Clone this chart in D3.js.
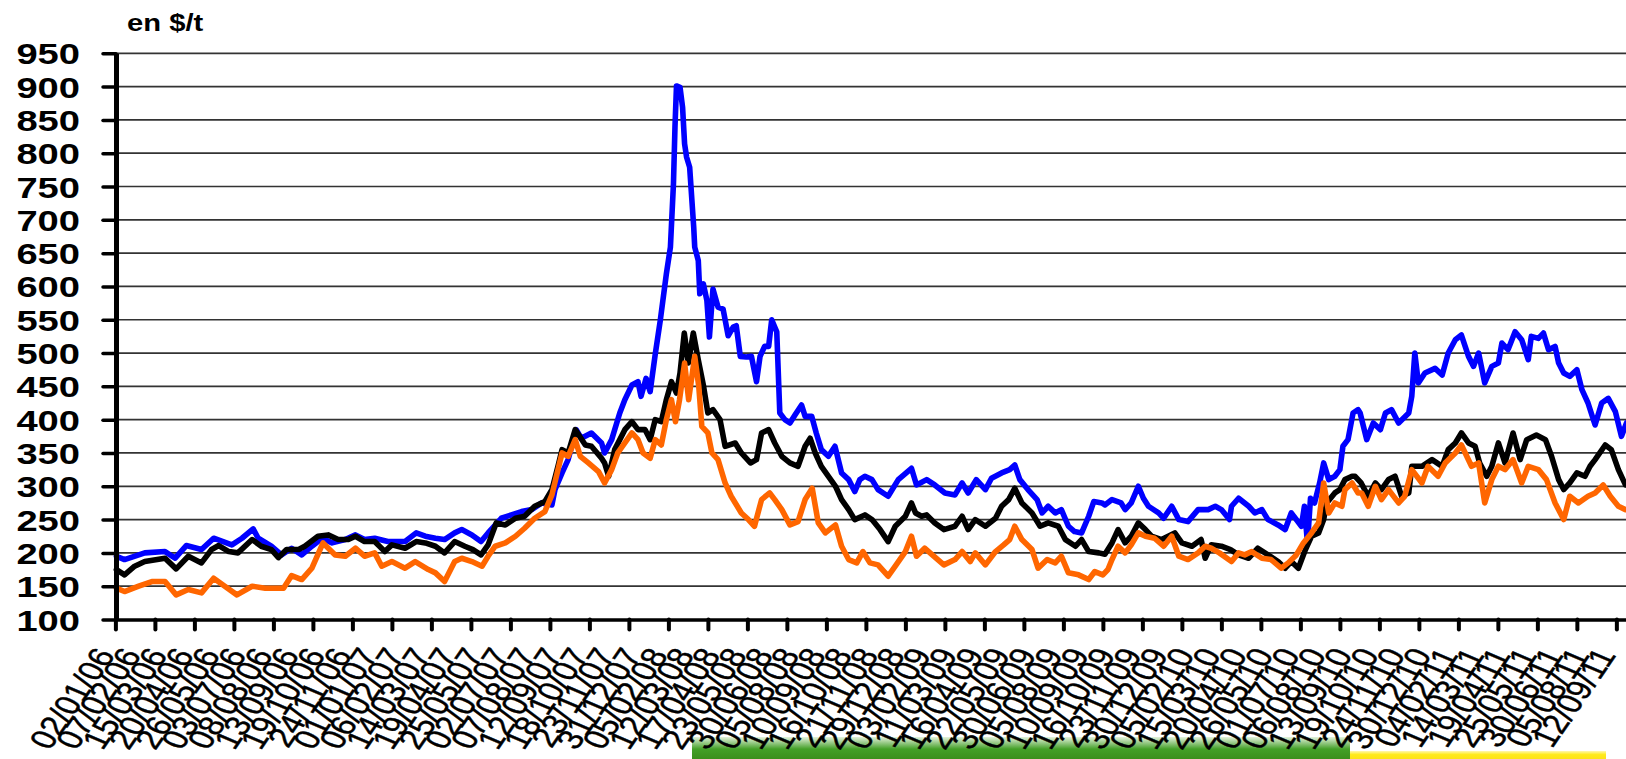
<!DOCTYPE html>
<html>
<head>
<meta charset="utf-8">
<script src="https://cdn.jsdelivr.net/npm/d3@7"></script>
<style>
  html, body { margin: 0; padding: 0; background: #fff; }
  svg { display: block; }
</style>
</head>
<body>
<div id="chart"></div>
<script>
(function (d3) {
    'use strict';

    // Category labels (one every 26 trading days).
    var dateLabels = [
        '02/01/06', '07/02/06', '15/03/06', '20/04/06', '26/05/06', '03/07/06', '08/08/06',
        '13/09/06', '19/10/06', '24/11/06', '01/01/07', '06/02/07', '14/03/07', '19/04/07',
        '25/05/07', '02/07/07', '07/08/07', '12/09/07', '18/10/07', '23/11/07', '31/12/07',
        '05/02/08', '12/03/08', '17/04/08', '23/05/08', '30/06/08', '05/08/08', '10/09/08',
        '16/10/08', '21/11/08', '29/12/08', '03/02/09', '11/03/09', '16/04/09', '22/05/09',
        '30/06/09', '05/08/09', '10/09/09', '16/10/09', '23/11/09', '30/12/09', '05/02/10',
        '15/03/10', '20/04/10', '26/05/10', '01/07/10', '06/08/10', '13/09/10', '19/10/10',
        '24/11/10', '30/12/10', '04/02/11', '14/03/11', '19/04/11', '25/05/11', '30/06/11',
        '05/08/11', '12/09/11'
    ];
    var yTicks = [100, 150, 200, 250, 300, 350, 400, 450, 500, 550, 600, 650, 700, 750, 800, 850, 900, 950];

    // [trading day, $/t]
    var blue = [
        [1,195],[9,190],[29,200],[49,202],[59,192],[70,211],[85,205],[97,222],[115,212],[125,222],
        [136,236],[141,222],[154,210],[164,197],[174,207],[184,197],[194,210],[204,222],[214,215],[227,220],
        [237,227],[246,220],[256,222],[269,217],[286,217],[297,230],[306,225],[316,222],[325,220],[335,230],
        [342,235],[352,227],[361,217],[368,230],[381,252],[391,257],[401,262],[411,265],[421,275],[431,272],
        [434,295],[441,320],[447,340],[455,385],[460,372],[470,380],[480,365],[483,350],[490,370],[498,410],
        [503,430],[510,452],[516,457],[519,435],[524,462],[528,442],[533,498],[538,549],[544,619],[548,659],
        [551,754],[552.5,839],[554,901],[557.5,899],[560,869],[562,814],[564,794],[567,779],[571,689],[572,659],
        [575.5,639],[577,589],[580.5,604],[584,579],[586.5,524],[590,596],[595,569],[600,566],[605,526],[610,539],
        [613,541],[617,495],[623,494],[628,495],[633,457],[636.5,495],[641,510],[645,510],[648,550],[653,532],
        [656,410],[661,400],[666,395],[671,407],[677.5,422],[681,405],[687.5,405],[692,380],[697,355],[704,345],
        [710.5,360],[717,320],[724,310],[730,292],[735,310],[740,315],[747,310],[753,295],[763,285],[773,310],
        [786,327],[791,302],[801,310],[809,302],[819,290],[829,287],[836,305],[842,290],[850,310],[859,295],
        [865,312],[875,320],[883,325],[888,332],[893,310],[901,295],[910,280],[915,260],[921,270],[928,260],
        [934,265],[941,240],[947,232],[954,230],[961,255],[966,277],[974,275],[977,272],[984,280],[993,275],
        [997,265],[1003,275],[1010,300],[1015,282],[1020,270],[1030,260],[1035,252],[1043,270],[1050,250],[1059,247],
        [1069,265],[1079,265],[1086,270],[1092,265],[1100,250],[1102,270],[1109,282],[1119,270],[1125,260],[1132,265],
        [1138,250],[1148,242],[1155,235],[1161,260],[1171,240],[1174,270],[1177,215],[1180,282],[1184,275],[1189,305],
        [1193,335],[1198,310],[1204,315],[1209,325],[1212,360],[1217,370],[1222,410],[1227,415],[1229,410],[1235.5,370],
        [1242,395],[1249,385],[1254,410],[1260,415],[1267,395],[1277,410],[1280,435],[1283,500],[1286.5,455],[1293,470],
        [1303,477],[1310,467],[1316,500],[1323,520],[1329,527],[1336,495],[1341,480],[1346,500],[1352,455],[1359,480],
        [1365.5,485],[1369,515],[1375,505],[1382,532],[1388.5,520],[1395,490],[1398,525],[1405,522],[1410,530],[1415,505],
        [1421.5,510],[1425,485],[1430,470],[1436,465],[1443,475],[1448,445],[1454,425],[1461,392],[1467.5,425],[1474,432],
        [1481,412],[1487,375],[1492,395]
    ];

    var black = [
        [1,175],[9,167],[19,180],[29,187],[49,192],[60,176],[72,195],[85,185],[95,205],[102,211],
        [112,202],[121,200],[135,220],[144,210],[154,205],[161,193],[169,205],[181,205],[187,210],[200,225],
        [210,227],[220,220],[230,220],[237,225],[246,217],[256,217],[266,202],[273,212],[286,207],[297,217],
        [306,215],[316,210],[325,200],[335,217],[345,210],[353,205],[361,197],[368,212],[376,245],[385,242],
        [395,252],[404,255],[414,270],[424,277],[431,295],[437,330],[441,355],[447,350],[454,385],[464,362],
        [470,360],[480,342],[483,335],[487,315],[493,355],[503,385],[510,397],[516,385],[523,385],[528,370],
        [533,400],[539,397],[544,430],[549,457],[554,440],[557.5,470],[561.7,530],[565.7,485],[570.6,530],[575.5,490],
        [580.5,452],[585,410],[590,415],[597,400],[602,360],[612,365],[618,350],[627,335],[633,340],[638,380],
        [645,385],[651,365],[658,345],[666,335],[674,330],[681,360],[686,372],[691,350],[697,330],[704,315],
        [711,300],[717,280],[724,265],[730,250],[740,257],[747,250],[755,235],[763,217],[770,240],[780,255],
        [786,275],[790,260],[796,255],[801,257],[809,245],[818,235],[829,240],[836,255],[842,235],[849,250],
        [859,240],[869,252],[875,270],[882,280],[888,297],[895,275],[905,260],[913,240],[921,245],[931,240],
        [938,220],[948,210],[954,220],[961,202],[971,200],[977,198],[984,215],[990,235],[997,215],[1003,225],
        [1010,245],[1017,235],[1023,225],[1033,220],[1046,230],[1053,215],[1063,210],[1072,220],[1076,192],[1082,212],
        [1092,210],[1101,205],[1109,197],[1119,192],[1128,207],[1138,197],[1148,187],[1155,177],[1161,187],[1168,177],
        [1175,205],[1181,225],[1188,230],[1193,250],[1196,275],[1204,290],[1209,295],[1214,310],[1221,315],[1224,315],
        [1230,305],[1237,285],[1244,305],[1250,295],[1257,310],[1263.5,315],[1270,285],[1277,290],[1280,330],[1290,330],
        [1300,340],[1310,330],[1316,355],[1323,365],[1329,380],[1336,365],[1342.5,360],[1347,335],[1354,315],[1359,330],
        [1365.5,365],[1372,335],[1380,380],[1387,340],[1393.5,370],[1403,377],[1412,370],[1418,345],[1425,310],[1430,295],
        [1436,305],[1443,320],[1451,315],[1456,330],[1461,340],[1471,362],[1477,355],[1484,325],[1491,302]
    ];

    var orange = [
        [1,147],[9,142],[23,150],[36,157],[49,157],[60,137],[72,145],[85,140],[97,162],[108,150],
        [120,137],[135,150],[148,147],[166,147],[174,166],[184,160],[194,177],[205,215],[217,197],[227,195],
        [237,207],[246,195],[256,200],[263,180],[273,187],[286,177],[296,187],[309,175],[316,170],[325,157],
        [335,187],[342,192],[352,187],[362,180],[368,195],[375,210],[385,215],[395,225],[404,237],[414,252],
        [424,262],[431,287],[437,325],[441,350],[447,345],[454,370],[459,345],[467,335],[477,322],[483,305],
        [490,325],[496,350],[503,365],[510,380],[516,370],[521,350],[528,342],[533,370],[539,362],[544,400],
        [549,430],[553,397],[557,430],[562,485],[566,430],[572,495],[576,450],[579,390],[585,380],[589,350],
        [595,340],[602,305],[608,285],[618,260],[625,250],[631,240],[638,280],[646,290],[651,280],[658,265],
        [666,242],[674,247],[681,280],[688,297],[694,245],[701,230],[711,242],[717,210],[724,190],[732,185],
        [738,202],[745,185],[753,182],[763,165],[770,180],[780,202],[786,225],[791,195],[799,207],[808,195],
        [818,182],[829,190],[836,202],[844,187],[849,200],[859,182],[869,202],[877,212],[883,220],[888,240],
        [895,220],[905,205],[911,177],[920,190],[928,185],[934,195],[941,170],[951,167],[961,160],[967,172],
        [975,167],[980,175],[984,190],[990,210],[997,200],[1003,212],[1010,230],[1017,225],[1026,222],[1035,210],
        [1043,225],[1050,195],[1059,190],[1069,200],[1076,210],[1082,207],[1090,200],[1102,187],[1109,200],[1115,197],
        [1122,202],[1132,192],[1141,190],[1151,177],[1158,185],[1166,197],[1173,215],[1181,230],[1188,245],[1193,305],
        [1198,260],[1204,275],[1211,270],[1214,295],[1221,305],[1227,290],[1230.5,290],[1237,270],[1244,300],[1250,280],
        [1257,295],[1267,275],[1273,285],[1280,325],[1290,305],[1296,330],[1306,315],[1313,335],[1323,350],[1329,362],
        [1339,330],[1346,335],[1352,275],[1359,310],[1365.5,330],[1372,325],[1380,340],[1388.5,305],[1395,330],[1405,325],
        [1413,310],[1421.5,275],[1430,250],[1436,285],[1444.5,275],[1454,285],[1461,290],[1469,302],[1476,285],[1484,270],
        [1491,265]
    ];

    var LABEL_EVERY = 26;
    var TICK_EVERY = 39;
    var STRETCH = 'scale(1.27,1)';

    var width = 1626;
    var height = 759;

    var x = d3.scaleLinear().domain([0, 1500]).range([115.4, 115.4 + 1500 * 1.0128]);
    var y = d3.scaleLinear().domain([100, 950]).range([619.5, 53.3]);

    var svg = d3.select('#chart').append('svg')
        .attr('width', width)
        .attr('height', height);

    var defs = svg.append('defs');
    var gGreen = defs.append('linearGradient').attr('id', 'band-green')
        .attr('x1', 0).attr('y1', 0).attr('x2', 0).attr('y2', 1);
    gGreen.append('stop').attr('offset', '0%').attr('stop-color', '#e4f2dc');
    gGreen.append('stop').attr('offset', '30%').attr('stop-color', '#8cc47a');
    gGreen.append('stop').attr('offset', '55%').attr('stop-color', '#43a027');
    gGreen.append('stop').attr('offset', '100%').attr('stop-color', '#3b8f1c');
    var gYellow = defs.append('linearGradient').attr('id', 'band-yellow')
        .attr('x1', 0).attr('y1', 0).attr('x2', 0).attr('y2', 1);
    gYellow.append('stop').attr('offset', '0%').attr('stop-color', '#fff8b0');
    gYellow.append('stop').attr('offset', '45%').attr('stop-color', '#ffea1c');
    gYellow.append('stop').attr('offset', '100%').attr('stop-color', '#fde21a');

    // Coloured bands cut off at the bottom of the picture.
    svg.append('rect').attr('x', 692).attr('y', 737).attr('width', 658).attr('height', 22)
        .attr('fill', 'url(#band-green)');
    svg.append('rect').attr('x', 1350).attr('y', 751).attr('width', 256).attr('height', 8)
        .attr('fill', 'url(#band-yellow)');

    // Horizontal grid.
    svg.append('g')
        .selectAll('line')
        .data(yTicks.slice(1))
        .enter().append('line')
        .attr('x1', 116).attr('x2', width)
        .attr('y1', function (d) { return y(d); })
        .attr('y2', function (d) { return y(d); })
        .attr('stroke', '#333')
        .attr('stroke-width', 1.7);

    // Series.
    var line = d3.line()
        .x(function (d) { return x(d[0]); })
        .y(function (d) { return y(d[1]); });

    [[blue, '#0000ff'], [black, '#000000'], [orange, '#ff6600']].forEach(function (s) {
        svg.append('path')
            .datum(s[0])
            .attr('d', line)
            .attr('fill', 'none')
            .attr('stroke', s[1])
            .attr('stroke-width', 5.6)
            .attr('stroke-linejoin', 'round')
            .attr('stroke-linecap', 'round');
    });

    // x-axis: tick marks
    var xAxis = svg.append('g')
        .attr('transform', 'translate(0,' + y(100) + ')')
        .call(d3.axisBottom(x)
            .tickValues(d3.range(0, 1483, TICK_EVERY))
            .tickFormat('')
            .tickSize(10)
            .tickSizeOuter(0));
    xAxis.select('.domain').attr('stroke', '#000').attr('stroke-width', 3.5);
    xAxis.selectAll('.tick line')
        .attr('stroke', '#000').attr('stroke-width', 4).attr('stroke-linecap', 'round');

    // x-axis: date labels
    var xLabels = svg.append('g')
        .attr('transform', 'translate(0,' + y(100) + ')')
        .call(d3.axisBottom(x)
            .tickValues(dateLabels.map(function (d, i) { return i * LABEL_EVERY; }))
            .tickFormat(function (d, i) { return dateLabels[i]; })
            .tickSize(0));
    xLabels.select('.domain').remove();
    xLabels
        .attr('font-family', '"Liberation Sans", Arial, sans-serif')
        .attr('font-size', 28);
    xLabels.selectAll('text')
        .attr('y', null)
        .attr('dy', '0.35em')
        .attr('fill', '#000')
        .attr('stroke', '#000')
        .attr('stroke-width', 0.4)
        .attr('text-anchor', 'end')
        .attr('transform', 'translate(-11,31) ' + STRETCH + ' rotate(-61.5)');

    // y-axis
    var yAxis = svg.append('g')
        .attr('transform', 'translate(116,0)')
        .call(d3.axisLeft(y)
            .tickValues(yTicks)
            .tickSize(13)
            .tickSizeOuter(0));
    yAxis.select('.domain').attr('stroke', '#000').attr('stroke-width', 5);
    yAxis.selectAll('.tick line')
        .attr('stroke', '#000').attr('stroke-width', 3.5).attr('stroke-linecap', 'round');
    yAxis
        .attr('font-family', '"Liberation Sans", Arial, sans-serif')
        .attr('font-size', 30)
        .attr('font-weight', 'bold');
    yAxis.selectAll('text')
        .attr('x', null)
        .attr('dy', '0.35em')
        .attr('fill', '#000')
        .attr('text-anchor', 'end')
        .attr('transform', 'translate(-36,0) ' + STRETCH);

    // Unit label.
    svg.append('text')
        .attr('transform', 'translate(127,31) ' + STRETCH)
        .attr('font-family', '"Liberation Sans", Arial, sans-serif')
        .attr('font-size', 23)
        .attr('font-weight', 'bold')
        .text('en $/t');
})(d3);
</script>
</body>
</html>
